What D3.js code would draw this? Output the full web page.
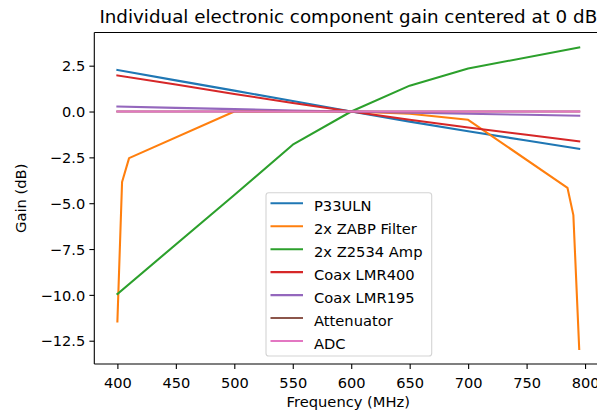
<!DOCTYPE html>
<html>
<head>
<meta charset="utf-8">
<script src="https://cdn.jsdelivr.net/npm/d3@7"></script>
<style>
  html, body { margin: 0; padding: 0; background: #fff; }
  svg { display: block; font-family: "DejaVu Sans", sans-serif; }
</style>
</head>
<body>
<svg id="chart" width="597" height="415"></svg>
<script>
// Component gain (dB), each series centred at 0 dB around 600 MHz
const seriesNames = ["P33ULN", "2x ZABP Filter", "2x Z2534 Amp", "Coax LMR400", "Coax LMR195", "Attenuator", "ADC"];
const seriesColors = ["#1f77b4", "#ff7f0e", "#2ca02c", "#d62728", "#9467bd", "#8c564b", "#e377c2"];

const freqCommon = [400, 450, 500, 550, 600, 650, 700, 750, 795];
const gainP33ULN = [2.27, 1.70, 1.14, 0.57, 0.00, -0.55, -1.08, -1.58, -2.03];
const gainLMR400 = [1.97, 1.47, 0.96, 0.47, 0.00, -0.45, -0.87, -1.27, -1.63];
const gainLMR195 = [0.27, 0.20, 0.13, 0.06, 0.00, -0.06, -0.12, -0.18, -0.23];
const gainAtten  = [0, 0, 0, 0, 0, 0, 0, 0, 0];
const gainADC    = [0, 0, 0, 0, 0, 0, 0, 0, 0];

const freqFilter = [400, 404, 410, 500, 550, 600, 650, 700, 785, 790, 795];
const gainFilter = [-11.45, -3.84, -2.54, 0.00, 0.02, 0.00, -0.12, -0.45, -4.17, -5.65, -12.95];

const freqAmp = [400, 500, 550, 600, 650, 700, 795];
const gainAmp = [-9.95, -4.55, -1.81, 0.00, 1.41, 2.35, 3.49];

const xTicks = [400, 450, 500, 550, 600, 650, 700, 750, 800];
const yTicks = [-12.5, -10, -7.5, -5, -2.5, 0, 2.5];

const series = [
  { x: freqCommon, y: gainP33ULN },
  { x: freqFilter, y: gainFilter },
  { x: freqAmp,    y: gainAmp },
  { x: freqCommon, y: gainLMR400 },
  { x: freqCommon, y: gainLMR195 },
  { x: freqCommon, y: gainAtten },
  { x: freqCommon, y: gainADC }
].map((s, i) => ({
  name: seriesNames[i],
  color: seriesColors[i],
  points: s.x.map((f, j) => [f, s.y[j]])
}));

// Axes box (right edge runs past the visible canvas)
const box = { left: 94.3, right: 602.3, top: 32.5, bottom: 364 };
const svg = d3.select("#chart");

const x = d3.scaleLinear().domain([380.25, 814.75]).range([box.left, box.right]);
const y = d3.scaleLinear().domain([-13.77, 4.31]).range([box.bottom, box.top]);

const tickFont = 14.6;
const labelFont = 14.7;
const fmtY = v => d3.format(".1f")(v).replace("-", "\u2212");

svg.append("defs").append("clipPath").attr("id", "plotClip")
  .append("rect")
  .attr("x", box.left).attr("y", box.top)
  .attr("width", box.right - box.left).attr("height", box.bottom - box.top);

// Series lines
const line = d3.line().x(d => x(d[0])).y(d => y(d[1]));
const lines = svg.append("g").attr("clip-path", "url(#plotClip)");
series.forEach(s => {
  lines.append("path")
    .datum(s.points)
    .attr("d", line)
    .attr("fill", "none")
    .attr("stroke", s.color)
    .attr("stroke-width", 2.08)
    .attr("stroke-linejoin", "round")
    .attr("stroke-linecap", "square");
});

// Axes
const xAxis = d3.axisBottom(x).tickValues(xTicks).tickSizeInner(4.9).tickSizeOuter(0).tickPadding(3.5);
const yAxis = d3.axisLeft(y).tickValues(yTicks).tickFormat(fmtY).tickSizeInner(4.9).tickSizeOuter(0).tickPadding(4.2);

const gx = svg.append("g").attr("transform", `translate(0,${box.bottom})`).call(xAxis);
const gy = svg.append("g").attr("transform", `translate(${box.left},0)`).call(yAxis);

[gx, gy].forEach(g => {
  g.select(".domain").remove();
  g.selectAll(".tick line").attr("stroke", "#000").attr("stroke-width", 1.1);
  g.selectAll(".tick text").attr("fill", "#000").attr("font-size", tickFont)
    .attr("font-family", "DejaVu Sans");
});
gx.selectAll(".tick text").attr("dy", null).attr("y", 23.8);
gy.selectAll(".tick text").attr("dy", "0.36em");

// Spines: left, top, bottom (right lies beyond the canvas)
const spine = svg.append("g").attr("stroke", "#000").attr("stroke-width", 1.1).attr("fill", "none");
spine.append("line").attr("x1", box.left).attr("x2", box.left).attr("y1", box.top).attr("y2", box.bottom);
spine.append("line").attr("x1", box.left).attr("x2", box.right).attr("y1", box.top).attr("y2", box.top);
spine.append("line").attr("x1", box.left).attr("x2", box.right).attr("y1", box.bottom).attr("y2", box.bottom);

// Title and axis labels
const cx = (box.left + box.right) / 2;
svg.append("text")
  .attr("x", cx).attr("y", 23)
  .attr("text-anchor", "middle")
  .attr("font-size", 18.3)
  .attr("fill", "#000")
  .text("Individual electronic component gain centered at 0 dB");

svg.append("text")
  .attr("x", cx).attr("y", 407)
  .attr("text-anchor", "middle")
  .attr("font-size", labelFont)
  .attr("fill", "#000")
  .text("Frequency (MHz)");

svg.append("text")
  .attr("transform", `translate(26,${(box.top + box.bottom) / 2}) rotate(-90)`)
  .attr("text-anchor", "middle")
  .attr("font-size", labelFont)
  .attr("fill", "#000")
  .text("Gain (dB)");

// Legend
const legend = svg.append("g");
const lg = { x: 266, y: 192.7, w: 165.7, h: 163.3, row0: 203.3, step: 22.95 };
legend.append("rect")
  .attr("x", lg.x).attr("y", lg.y).attr("width", lg.w).attr("height", lg.h)
  .attr("rx", 2.8).attr("ry", 2.8)
  .attr("fill", "#fff").attr("fill-opacity", 0.8)
  .attr("stroke", "#d4d4d4").attr("stroke-width", 1.1);

series.forEach((s, i) => {
  const ly = lg.row0 + i * lg.step;
  legend.append("line")
    .attr("x1", 270.5).attr("x2", 303).attr("y1", ly).attr("y2", ly)
    .attr("stroke", s.color).attr("stroke-width", 2.08);
  legend.append("text")
    .attr("x", 314).attr("y", ly + 8)
    .attr("font-size", labelFont)
    .attr("fill", "#000")
    .text(s.name);
});
</script>
</body>
</html>
